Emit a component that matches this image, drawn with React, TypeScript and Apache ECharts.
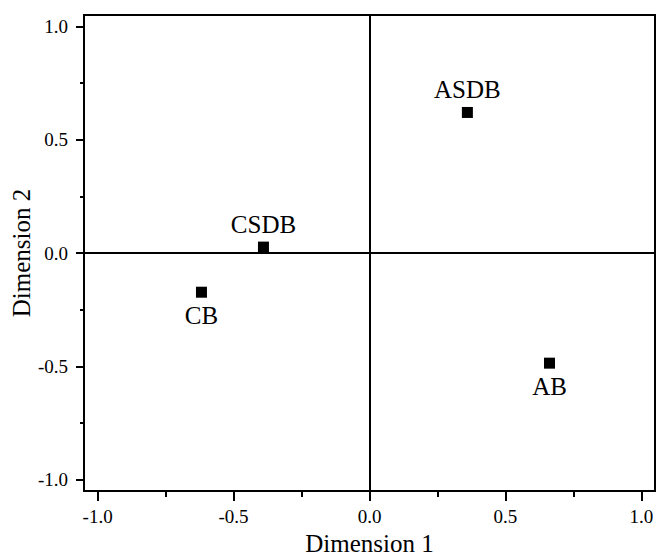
import React, { useEffect, useRef } from "react";
import * as echarts from "echarts";

const pointNames = ["ASDB", "CSDB", "CB", "AB"];
const dim1Values = [0.36, -0.39, -0.618, 0.662];
const dim2Values = [0.62, 0.026, -0.173, -0.486];
const labelSides = ["top", "top", "bottom", "bottom"];
const majorTicks = [-1.0, -0.5, 0.0, 0.5, 1.0];
const minorTicks = [-0.75, -0.25, 0.25, 0.75];
const axisMin = -1.05;
const axisMax = 1.05;
const xName = "Dimension 1";
const yName = "Dimension 2";

const FONT = "'Times New Roman', 'Liberation Serif', serif";

export default function App() {
  const ref = useRef<HTMLDivElement>(null);
  useEffect(() => {
    if (!ref.current) return;
    const chart = echarts.init(ref.current, null, { renderer: "svg" });
    const data = pointNames.map((n, i) => ({
      name: n,
      value: [dim1Values[i], dim2Values[i]],
      label: { position: labelSides[i] },
    }));
    const tickLabelStyle = {
      color: "#000",
      fontFamily: FONT,
      fontSize: 19,
      formatter: (v: number) => v.toFixed(1),
    };
    const mkAxis = (dim: "x" | "y", major: boolean) => {
      const isX = dim === "x";
      return {
        type: "value",
        min: axisMin,
        max: axisMax,
        position: isX ? "bottom" : "left",
        name: major ? (isX ? xName : yName) : "",
        nameLocation: "middle",
        nameGap: isX ? 40 : 50,
        nameMoveOverlap: false,
        nameTextStyle: { color: "#000", fontFamily: FONT, fontSize: 25 },
        axisLine: { show: major, onZero: false, lineStyle: { color: "#000", width: 2 } },
        axisTick: {
          show: true,
          inside: false,
          length: major ? (isX ? 10 : 8) : (isX ? 6 : 4),
          customValues: major ? majorTicks : minorTicks,
          lineStyle: { color: "#000", width: 2 },
        },
        axisLabel: major
          ? { ...tickLabelStyle, margin: 16, customValues: majorTicks }
          : { show: false },
        splitLine: { show: false },
        minorTick: { show: false },
      };
    };
    chart.setOption({
      animation: false,
      backgroundColor: "#fff",
      grid: {
        left: 84,
        right: 1,
        top: 15,
        bottom: 67,
        show: true,
        borderColor: "#000",
        borderWidth: 2,
        containLabel: false,
        outerBoundsMode: "none",
      },
      xAxis: [mkAxis("x", true), mkAxis("x", false)],
      yAxis: [mkAxis("y", true), mkAxis("y", false)],
      series: [
        {
          type: "scatter",
          xAxisIndex: 0,
          yAxisIndex: 0,
          symbol: "rect",
          symbolSize: 11,
          itemStyle: { color: "#000", opacity: 1 },
          label: {
            show: true,
            formatter: "{b}",
            color: "#000",
            fontFamily: FONT,
            fontSize: 25,
            distance: 5,
          },
          data,
          markLine: {
            silent: true,
            symbol: "none",
            label: { show: false },
            lineStyle: { color: "#000", width: 2, type: "solid", opacity: 1 },
            data: [{ xAxis: 0 }, { yAxis: 0 }],
          },
          z: 5,
        },
      ],
    });
    return () => chart.dispose();
  }, []);
  return (
    <div
      ref={ref}
      style={{ position: "fixed", left: 0, top: 0, width: 656, height: 558, background: "#fff" }}
    />
  );
}
